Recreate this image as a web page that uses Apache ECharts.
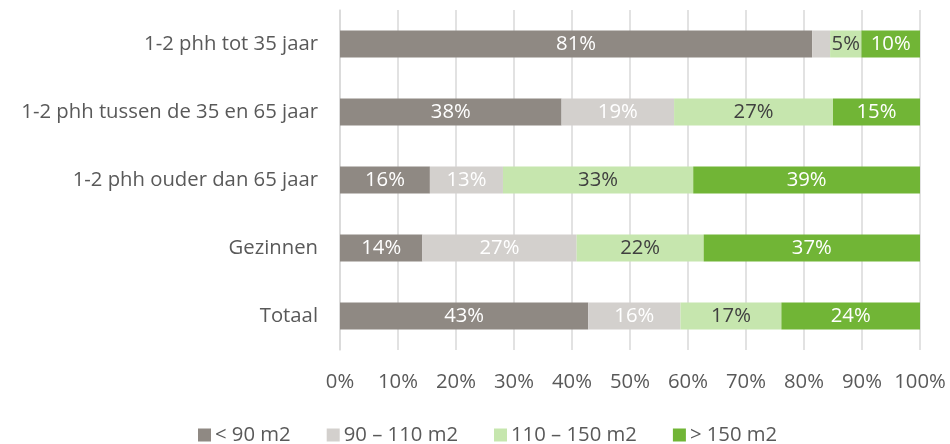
<!DOCTYPE html>
<html><head><meta charset="utf-8">
<script src="https://cdn.jsdelivr.net/npm/echarts@6/dist/echarts.min.js"></script>
<style>html,body{margin:0;padding:0;background:#fff}#c{width:950px;height:444px}</style>
</head><body><div id="c"></div>
<script>
const categories = ["1-2 phh tot 35 jaar","1-2 phh tussen de 35 en 65 jaar","1-2 phh ouder dan 65 jaar","Gezinnen","Totaal"];
const seriesNames = ["< 90 m2","90 – 110 m2","110 – 150 m2","> 150 m2"];
const s1 = [81.4, 38.2, 15.5, 14.2, 42.8];
const s2 = [3.1, 19.4, 12.6, 26.6, 15.9];
const s3 = [5.4, 27.4, 32.8, 21.9, 17.4];
const s4 = [10.1, 15.0, 39.1, 37.3, 23.9];
const xTicks = [0,10,20,30,40,50,60,70,80,90,100];

const colors = ['#8f8983','#d3d0cd','#c6e6ae','#71b536'];
const labelColors = ['#ffffff','#ffffff','#404040','#ffffff'];
const FONT = 'Open Sans';
const FS = 20.3;
const chart = echarts.init(document.getElementById('c'));
const data = [s1,s2,s3,s4];
chart.setOption({
  animation:false,
  textStyle:{fontFamily:FONT},
  grid:{left:340,right:30,top:10,bottom:94,containLabel:false},
  legend:{
    bottom:-6,left:193,itemWidth:13,itemHeight:13,itemGap:36,itemStyle:{borderWidth:0},icon:'rect',
    textStyle:{fontSize:FS,color:'#595959',fontFamily:FONT,padding:[0,0,0,-1]},
    data:seriesNames
  },
  xAxis:{
    type:'value',min:0,max:100,interval:10,
    axisLabel:{formatter:v=>v+'%',fontSize:FS,color:'#595959',margin:22},
    splitLine:{show:true,lineStyle:{color:'#d9d9d9',width:1.5}},
    axisLine:{show:false},axisTick:{show:false}
  },
  yAxis:{
    type:'category',data:categories,inverse:true,
    axisLabel:{fontSize:FS,color:'#595959',margin:22},
    axisLine:{show:true,lineStyle:{color:'#d9d9d9',width:1.5}},
    axisTick:{show:false},splitLine:{show:false}
  },
  series:seriesNames.map((n,i)=>({
    name:n,type:'bar',stack:'t',barWidth:27,data:data[i],
    itemStyle:{color:colors[i]},
    label:{show:true,position:'inside',fontSize:FS,color:labelColors[i],fontFamily:FONT,
      formatter:p=>p.value<4?'':Math.round(p.value)+'%'}
  }))
});
</script></body></html>
